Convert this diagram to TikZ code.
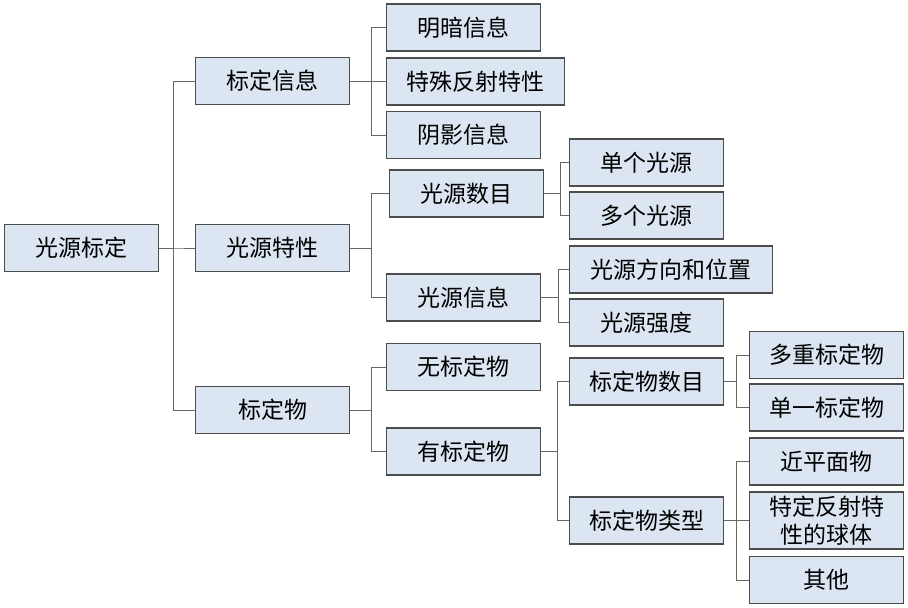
\documentclass[tikz,border=0pt]{standalone}
\usepackage{fontspec}
\setmainfont{Noto Sans CJK SC}
\usepackage{tikz}
\usetikzlibrary{positioning}

\begin{document}
\begin{tikzpicture}[
    x=1pt, y=-1pt,
    box/.style={
        rectangle,
        draw=black!70,
        line width=1.2pt,
        fill=boxblue,
        minimum width=154pt,
        minimum height=47pt,
        inner sep=0pt,
        anchor=west,
        align=center,
        font=\fontsize{23}{28}\selectfont
    },
    link/.style={draw=black!60, line width=1pt}
]
\definecolor{boxblue}{HTML}{DCE6F2}
\useasboundingbox (0,0) rectangle (908,608);

% 第一层
\node[box] (root) at (4,248) {光源标定};

% 第二层
\node[box] (cal) at (195,81) {标定信息};
\node[box] (src) at (195,248) {光源特性};
\node[box] (obj) at (195,410) {标定物};

% 第三层
\node[box] (shade) at (386,27.5) {明暗信息};
\node[box, minimum width=178pt] (refl) at (386,81.5) {特殊反射特性};
\node[box] (shadow) at (386,135) {阴影信息};
\node[box] (srcnum) at (389,193.5) {光源数目};
\node[box] (srcinfo) at (386,297.5) {光源信息};
\node[box] (noobj) at (386,367) {无标定物};
\node[box] (hasobj) at (386,451.5) {有标定物};

% 第四层
\node[box] (single) at (569,162.5) {单个光源};
\node[box] (multi) at (569,215.5) {多个光源};
\node[box, minimum width=203pt] (dirpos) at (569,269.5) {光源方向和位置};
\node[box] (power) at (569,322.5) {光源强度};
\node[box] (objnum) at (569,381.5) {标定物数目};
\node[box] (objtype) at (569,520.5) {标定物类型};

% 第五层
\node[box] (multiobj) at (749,355) {多重标定物};
\node[box] (oneobj) at (749,407.5) {单一标定物};
\node[box] (plane) at (749,461.5) {近平面物};
\node[box, minimum height=57pt] (sphere) at (749,520.5) {特定反射特\\性的球体};
\node[box] (other) at (749,580) {其他};

% 连线
\foreach \c in {cal,src,obj}
    \draw[link] (root.east) -- ++(14,0) |- (\c.west);
\foreach \c in {shade,refl,shadow}
    \draw[link] (cal.east) -- ++(21,0) |- (\c.west);
\foreach \c in {srcnum,srcinfo}
    \draw[link] (src.east) -- ++(21,0) |- (\c.west);
\foreach \c in {noobj,hasobj}
    \draw[link] (obj.east) -- ++(21,0) |- (\c.west);
\foreach \c in {single,multi}
    \draw[link] (srcnum.east) -- ++(16,0) |- (\c.west);
\foreach \c in {dirpos,power}
    \draw[link] (srcinfo.east) -- ++(17,0) |- (\c.west);
\foreach \c in {objnum,objtype}
    \draw[link] (hasobj.east) -- ++(16,0) |- (\c.west);
\foreach \c in {multiobj,oneobj}
    \draw[link] (objnum.east) -- ++(12,0) |- (\c.west);
\foreach \c in {plane,sphere,other}
    \draw[link] (objtype.east) -- ++(12,0) |- (\c.west);

\end{tikzpicture}
\end{document}
